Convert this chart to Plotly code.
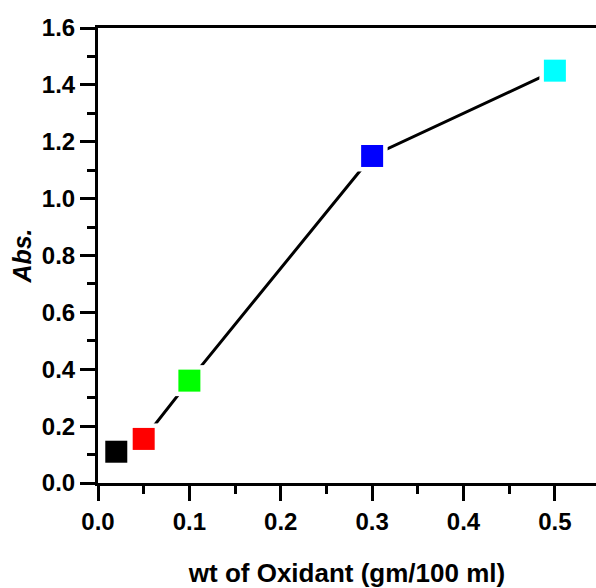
import plotly.graph_objects as go

# Absorbance vs. oxidant concentration
oxidant_wt = [0.02, 0.05, 0.10, 0.30, 0.50]
absorbance = [0.11, 0.155, 0.36, 1.15, 1.45]
point_colors = ["#000000", "#FF0000", "#00FF00", "#0000FF", "#00FFFF"]

x_ticks = [0.0, 0.1, 0.2, 0.3, 0.4, 0.5]
x_tick_text = ["0.0", "0.1", "0.2", "0.3", "0.4", "0.5"]
y_ticks = [0.0, 0.2, 0.4, 0.6, 0.8, 1.0, 1.2, 1.4, 1.6]
y_tick_text = ["0.0", "0.2", "0.4", "0.6", "0.8", "1.0", "1.2", "1.4", "1.6"]

FONT = "Arial, 'Liberation Sans', sans-serif"

fig = go.Figure()

# connecting line
fig.add_trace(go.Scatter(
    x=oxidant_wt, y=absorbance, mode="lines",
    line=dict(color="black", width=3),
    hoverinfo="skip", showlegend=False,
))
# white halo so the line stops short of each square
fig.add_trace(go.Scatter(
    x=oxidant_wt, y=absorbance, mode="markers",
    marker=dict(symbol="square", size=31, color="white", line=dict(width=0)),
    hoverinfo="skip", showlegend=False,
))
# coloured squares
fig.add_trace(go.Scatter(
    x=oxidant_wt, y=absorbance, mode="markers",
    marker=dict(symbol="square", size=22, color=point_colors,
                line=dict(width=0)),
    showlegend=False,
))

fig.update_layout(
    width=596, height=588,
    margin=dict(l=98, r=0, t=28, b=105),
    paper_bgcolor="white", plot_bgcolor="white",
    font=dict(family=FONT, color="black"),
)

fig.update_xaxes(
    range=[0, 0.545],
    tickmode="array", tickvals=x_ticks, ticktext=x_tick_text,
    ticks="outside", ticklen=15, tickwidth=3, tickcolor="black",
    minor=dict(ticks="outside", ticklen=8, tickwidth=3, tickcolor="black",
               dtick=0.05, tick0=0, showgrid=False),
    showline=True, linewidth=3, linecolor="black", mirror=True,
    showgrid=False, zeroline=False,
    tickfont=dict(family=FONT, size=24, color="black", weight="bold"),
    title=dict(text="<b>wt of Oxidant (gm/100 ml)</b>",
               font=dict(family=FONT, size=26, color="black"), standoff=34),
)
fig.update_yaxes(
    range=[0, 1.6],
    tickmode="array", tickvals=y_ticks, ticktext=y_tick_text,
    ticks="outside", ticklen=15, tickwidth=3, tickcolor="black",
    minor=dict(ticks="outside", ticklen=8, tickwidth=3, tickcolor="black",
               dtick=0.1, tick0=0, showgrid=False),
    showline=True, linewidth=3, linecolor="black", mirror=False,
    showgrid=False, zeroline=False,
    tickfont=dict(family=FONT, size=24, color="black", weight="bold"),
    title=dict(text="<b><i>Abs.</i></b>",
               font=dict(family=FONT, size=25, color="black"), standoff=4),
)

fig.write_html("out.html")
